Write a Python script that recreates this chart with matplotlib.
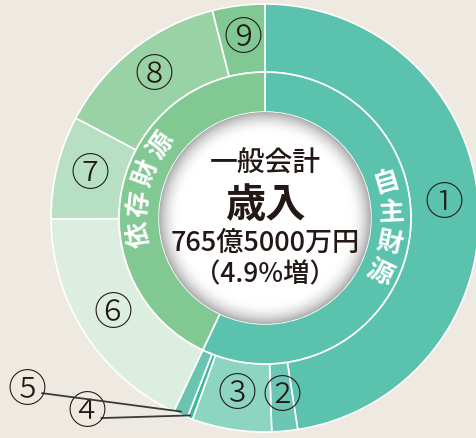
import numpy as np
import matplotlib
matplotlib.use("Agg")
import matplotlib.pyplot as plt
from matplotlib.patches import Circle

plt.rcParams['font.family'] = ['Noto Sans CJK JP', 'DejaVu Sans']

# 歳入の内訳（億円, 図から読み取った概算）
labels = ['①', '②', '③', '④', '⑤', '⑥', '⑦', '⑧', '⑨']
values = [363.6, 14.9, 45.9, 3.1, 8.4, 137.0, 59.7, 101.8, 30.2]
colors = ['#5bc3ad', '#6dc6b3', '#8dd4c1', '#3db99c', '#6bc4b0',
          '#dbeee0', '#b7e0c3', '#98d2a5', '#81c893']

# 内側のリング（①〜⑤が自主財源, ⑥〜⑨が依存財源）
groups = ['自主財源', '依存財源']
group_members = [5, 4]
group_colors = ['#5bc3ad', '#81c893']

title1 = '一般会計'
title2 = '歳入'
total_text = '765億5000万円'
change_text = '（4.9%増）'

bg = '#eeeae1'
ink = '#231815'

W, H = 476, 438
cx, cy = 265, 218  # 中心（ピクセル）
R = 214.0          # 外径（ピクセル）

fig = plt.figure(figsize=(W / 100, H / 100), dpi=100)
fig.patch.set_facecolor(bg)
ax = fig.add_axes([0, 0, 1, 1])
ax.set_facecolor(bg)

r_mid = 0.682
r_in = 0.495

wedges, _ = ax.pie(values, radius=1.0, startangle=90, counterclock=False,
                   colors=colors,
                   wedgeprops=dict(width=1 - r_mid, edgecolor='white', linewidth=1.2))

group_vals = []
k = 0
for n in group_members:
    group_vals.append(sum(values[k:k + n]))
    k += n
gw, _ = ax.pie(group_vals, radius=r_mid, startangle=90, counterclock=False,
               colors=group_colors,
               wedgeprops=dict(width=r_mid - r_in, edgecolor='white', linewidth=1.2))

# 中央の白い円（内側に影）
n = 300
xs = np.linspace(-r_in, r_in, n)
X, Y = np.meshgrid(xs, xs)
rr = np.sqrt(X ** 2 + Y ** 2) / r_in
t = np.clip((rr - 0.80) / 0.20, 0, 1) ** 2.0
img = np.ones((n, n, 4))
for i in range(3):
    img[..., i] = 1 - 0.32 * t
im = ax.imshow(img, extent=[-r_in, r_in, -r_in, r_in], origin='lower', zorder=3)
clip = Circle((0, 0), r_in, transform=ax.transData)
im.set_clip_path(clip)

ax.text(0, 0.257, title1, ha='center', va='center', fontsize=20, fontweight='medium', color=ink, zorder=5)
ax.text(0, 0.058, title2, ha='center', va='center', fontsize=29, fontweight='bold', color=ink, zorder=5)
ax.text(0, -0.117, total_text, ha='center', va='center', fontsize=19.5, fontweight='medium', color=ink, zorder=5)
ax.text(0, -0.266, change_text, ha='center', va='center', fontsize=19, fontweight='medium', color=ink, zorder=5)

# 内側リングの文字
r_txt = (r_mid + r_in) / 2 + 0.003
step = 14.0
shift = [-8.0, 1.0]
for w, name, sh in zip(gw, groups, shift):
    mid = (w.theta1 + w.theta2) / 2  # 反時計回り（x軸から）
    cw = (90 - mid) % 360 + sh       # 上から時計回り
    nch = len(name)
    for j, ch in enumerate(name):
        a = cw + (j - (nch - 1) / 2) * step
        if cw < 180:
            rot = 90 - a
        else:
            rot = -a
        th = np.deg2rad(90 - a)
        ax.text(r_txt * np.cos(th), r_txt * np.sin(th), ch, ha='center', va='center',
                rotation=rot, rotation_mode='anchor', fontsize=19, fontweight='bold',
                color='white', zorder=5)

# 外側リングの番号
r_lab = 0.84
for w, lab in zip(wedges, labels):
    if lab in ('④', '⑤'):
        continue
    mid = np.deg2rad((w.theta1 + w.theta2) / 2)
    ax.text(r_lab * np.cos(mid), r_lab * np.sin(mid), lab, ha='center', va='center',
            fontsize=28, fontweight='light', color=ink, zorder=5)

# ④⑤は引き出し線
callouts = {'⑤': ((-1.112, -0.808), (-1.045, -0.818)),
            '④': ((-0.832, -0.911), (-0.768, -0.935))}
for w, lab in zip(wedges, labels):
    if lab not in callouts:
        continue
    (tx, ty), (lx, ly) = callouts[lab]
    mid = np.deg2rad((w.theta1 + w.theta2) / 2)
    ex, ey = 0.985 * np.cos(mid), 0.985 * np.sin(mid)
    ax.plot([lx, ex], [ly, ey], color='#3a3a3a', lw=1.3, zorder=6, solid_capstyle='butt')
    ax.text(tx, ty, lab, ha='center', va='center', fontsize=28, fontweight='light',
            color=ink, zorder=6)

ax.set_xlim(-cx / R, (W - cx) / R)
ax.set_ylim(-(H - cy) / R, cy / R)
ax.set_aspect('auto')
ax.axis('off')

fig.savefig('out.png', dpi=100, facecolor=bg)
